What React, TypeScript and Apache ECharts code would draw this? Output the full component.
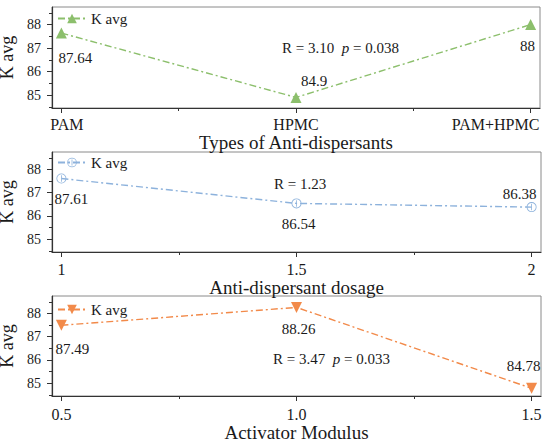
import React, { useEffect, useRef } from "react";
import * as echarts from "echarts";

// ---- data ----
const typeCategories = ["PAM", "HPMC", "PAM+HPMC"];
const typePositions = [0, 1, 2];
const typeKavg = [87.64, 84.9, 88];

const dosageValues = [1, 1.5, 2];
const dosageKavg = [87.61, 86.54, 86.38];

const modulusValues = [0.5, 1.0, 1.5];
const modulusKavg = [87.49, 88.26, 84.78];

const yMajorTicks = [85, 86, 87, 88];
const yMinorTicks = [84.5, 85.5, 86.5, 87.5, 88.5];

const FONT = "'Liberation Serif', 'Times New Roman', serif";
const AXIS_COLOR = "#333";
const TEXT_COLOR = "#1a1a1a";

const circleBar =
  "path://M0,-10 A10,10 0 1,1 0,10 A10,10 0 1,1 0,-10 Z M0,-8.4 A8.4,8.4 0 1,0 0,8.4 A8.4,8.4 0 1,0 0,-8.4 Z M-0.8,-6.5 L0.8,-6.5 L0.8,6.5 L-0.8,6.5 Z";

const panels = [
  {
    grid: { left: 52, top: 7, width: 488, height: 101 },
    x: typePositions,
    y: typeKavg,
    xMin: -0.04,
    xMax: 2.04,
    xMajor: [0, 1, 2],
    xMinor: [0.5, 1.5],
    xName: "Types of Anti-dispersants",
    nameGap: 22,
    labelMargin: 8,
    color: "#8cbf6c",
    symbol: "triangle",
    symbolRotate: 0,
    symbolSize: 11,
    labelOffsets: [
      [14, 25],
      [18, -16],
      [-3, 21],
    ],
    legendTop: 11,
    note: "R = 3.10  {i|p} = 0.038",
    noteX: 282,
    noteY: 48,
  },
  {
    grid: { left: 52, top: 152, width: 489, height: 100 },
    x: dosageValues,
    y: dosageKavg,
    xMin: 0.98,
    xMax: 2.02,
    xMajor: [1, 1.5, 2],
    xMinor: [1.25, 1.75],
    xName: "Anti-dispersant dosage",
    nameGap: 22,
    labelMargin: 9,
    color: "#8db2dc",
    symbol: circleBar,
    symbolRotate: 0,
    symbolSize: 10,
    labelOffsets: [
      [10, 20],
      [2, 21],
      [-12, -13],
    ],
    legendTop: 155,
    note: "R = 1.23",
    noteX: 274,
    noteY: 184,
  },
  {
    grid: { left: 52, top: 296, width: 489, height: 100 },
    x: modulusValues,
    y: modulusKavg,
    xMin: 0.48,
    xMax: 1.52,
    xMajor: [0.5, 1.0, 1.5],
    xMinor: [0.75, 1.25],
    xName: "Activator Modulus",
    nameGap: 24,
    labelMargin: 10,
    color: "#f28a4a",
    symbol: "triangle",
    symbolRotate: 180,
    symbolSize: 11,
    labelOffsets: [
      [11, 24],
      [2, 22],
      [-8, -22],
    ],
    legendTop: 302,
    note: "R = 3.47  {i|p} = 0.033",
    noteX: 273,
    noteY: 359,
  },
];

function xLabelFormatter(panelIndex: number) {
  return (v: number) => {
    if (panelIndex === 0) {
      const idx = Math.round(v);
      const name = typeCategories[idx];
      if (idx === 0) return "{l|" + name + "}";
      if (idx === typeCategories.length - 1) return "{r|" + name + "}";
      return "{c|" + name + "}";
    }
    if (panelIndex === 1) return "{c|" + String(v) + "}";
    return "{c|" + v.toFixed(1) + "}";
  };
}

function buildOption() {
  const grid: any[] = [];
  const xAxis: any[] = [];
  const yAxis: any[] = [];
  const series: any[] = [];
  const legend: any[] = [];
  const graphic: any[] = [];

  panels.forEach((p, i) => {
    grid.push({
      ...p.grid,
      show: true,
      containLabel: false,
      outerBoundsMode: "none",
      borderColor: "#8a8a8a",
      borderWidth: 1,
      backgroundColor: "transparent",
    });
    const labelBase = { fontSize: 16, fontFamily: FONT, color: TEXT_COLOR };
    xAxis.push({
      gridIndex: i,
      type: "value",
      position: "bottom",
      min: p.xMin,
      max: p.xMax,
      axisLine: { show: true, onZero: false, lineStyle: { color: AXIS_COLOR, width: 1.2 } },
      axisTick: { show: true, customValues: p.xMajor, length: 5, lineStyle: { color: AXIS_COLOR } },
      axisLabel: {
        show: true,
        customValues: p.xMajor,
        margin: p.labelMargin,
        formatter: xLabelFormatter(i),
        rich: {
          c: { ...labelBase },
          l: { ...labelBase, padding: [0, 0, 0, 11] },
          r: { ...labelBase, padding: [0, 70, 0, 0] },
        },
        ...labelBase,
      },
      splitLine: { show: false },
      name: p.xName,
      nameLocation: "middle",
      nameGap: p.nameGap,
      nameTextStyle: { fontSize: 19, fontFamily: FONT, color: TEXT_COLOR },
    });
    xAxis.push({
      gridIndex: i,
      type: "value",
      position: "bottom",
      min: p.xMin,
      max: p.xMax,
      axisLine: { show: false, onZero: false },
      axisTick: { show: true, customValues: p.xMinor, length: 3, lineStyle: { color: AXIS_COLOR } },
      axisLabel: { show: false },
      splitLine: { show: false },
    });
    yAxis.push({
      gridIndex: i,
      type: "value",
      position: "left",
      min: 84.45,
      max: 88.75,
      axisLine: { show: true, onZero: false, lineStyle: { color: AXIS_COLOR, width: 1.2 } },
      axisTick: { show: true, customValues: yMajorTicks, length: 5, lineStyle: { color: AXIS_COLOR } },
      axisLabel: {
        show: true,
        customValues: yMajorTicks,
        margin: 11,
        fontSize: 14,
        fontFamily: FONT,
        color: TEXT_COLOR,
      },
      splitLine: { show: false },
      name: "K avg",
      nameLocation: "middle",
      nameGap: 26,
      nameTextStyle: { fontSize: 18, lineHeight: 18, fontFamily: FONT, color: TEXT_COLOR },
    });
    yAxis.push({
      gridIndex: i,
      type: "value",
      position: "left",
      min: 84.45,
      max: 88.75,
      axisLine: { show: false, onZero: false },
      axisTick: { show: true, customValues: yMinorTicks, length: 3, lineStyle: { color: AXIS_COLOR } },
      axisLabel: { show: false },
      splitLine: { show: false },
    });

    const seriesName = "K avg|" + (i + 1);
    series.push({
      type: "line",
      name: seriesName,
      xAxisIndex: i * 2,
      yAxisIndex: i * 2,
      data: p.x.map((xv, j) => ({
        value: [xv, p.y[j]],
        label: { offset: p.labelOffsets[j] },
      })),
      symbol: p.symbol,
      symbolRotate: p.symbolRotate,
      symbolSize: p.symbolSize,
      itemStyle: { color: p.color },
      lineStyle: { color: p.color, width: 1.4, type: [7, 3, 2, 3] },
      label: {
        show: true,
        position: "inside",
        formatter: (prm: any) => String(prm.value[1]),
        fontSize: 15,
        fontFamily: FONT,
        color: TEXT_COLOR,
      },
      z: 3,
    });

    legend.push({
      left: 57,
      top: p.legendTop,
      padding: 0,
      itemWidth: 28,
      itemHeight: 12,
      data: [seriesName],
      formatter: (n: string) => n.split("|")[0],
      textStyle: { fontSize: 15, fontFamily: FONT, color: TEXT_COLOR },
      selectedMode: false,
    });

    graphic.push({
      type: "text",
      x: p.noteX,
      y: p.noteY,
      style: {
        text: p.note,
        fontSize: 15,
        fontFamily: FONT,
        fill: TEXT_COLOR,
        verticalAlign: "middle",
        rich: {
          i: { fontStyle: "italic", fontSize: 15, fontFamily: FONT, fill: TEXT_COLOR },
        },
      },
    });
  });

  return {
    animation: false,
    backgroundColor: "#ffffff",
    grid,
    xAxis,
    yAxis,
    series,
    legend,
    graphic,
  };
}

export default function App() {
  const ref = useRef<HTMLDivElement>(null);
  useEffect(() => {
    if (!ref.current) return;
    const chart = echarts.init(ref.current, null, { renderer: "svg" });
    chart.setOption(buildOption() as any);
    return () => {
      chart.dispose();
    };
  }, []);
  return (
    <div
      ref={ref}
      style={{ position: "fixed", left: 0, top: 0, width: 550, height: 445 }}
    />
  );
}
